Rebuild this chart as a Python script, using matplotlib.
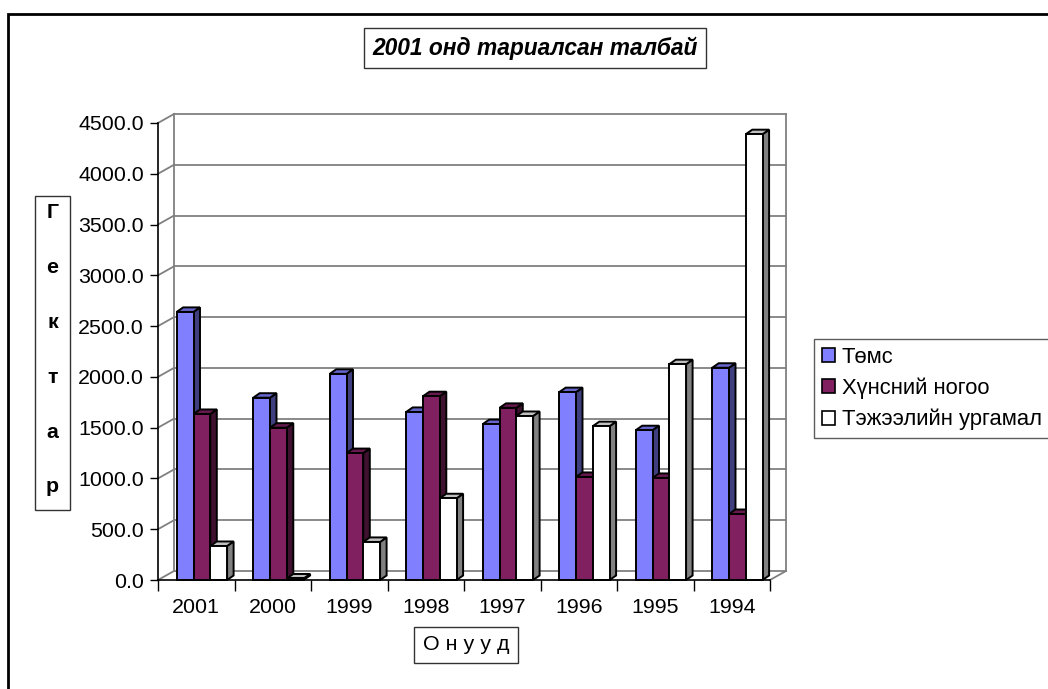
import matplotlib
matplotlib.use("Agg")
import matplotlib.pyplot as plt
from matplotlib.patches import Polygon, Rectangle, Patch

plt.rcParams['font.family'] = ['Liberation Sans', 'DejaVu Sans']

# data
years = ["2001", "2000", "1999", "1998", "1997", "1996", "1995", "1994"]
series_names = ["Төмс", "Хүнсний ногоо", "Тэжээлийн ургамал"]
tomc = [2640, 1795, 2030, 1655, 1535, 1850, 1475, 2090]
nogoo = [1635, 1500, 1250, 1810, 1695, 1015, 1005, 650]
tejeel = [335, 15, 375, 805, 1615, 1515, 2125, 4390]
y_ticks = [0, 500, 1000, 1500, 2000, 2500, 3000, 3500, 4000, 4500]

# colours: front, side, top
colors = [("#8080FF", "#3F3F7F", "#6666CC"),
          ("#802060", "#40102F", "#661A4D"),
          ("#FFFFFF", "#808080", "#C0C0C0")]

W, H = 1048, 689
fs = 15.4
fig = plt.figure(figsize=(W / 100, H / 100), dpi=100)
ax = fig.add_axes([158 / W, 1 - 580 / H, (770 - 158) / W, (580 - 123) / H])
ax.set_xlim(0, len(years))
ax.set_ylim(0, 4500)

# depth offsets (in data units)
px_x = len(years) / (770 - 158)
px_y = 4500 / (580 - 123)
wdx, wdy = 16 * px_x, 9 * px_y       # walls
bdx, bdy = 6.5 * px_x, 4.5 * px_y    # bars
grid_c = "#808080"

# back wall + left wall gridlines
for v in y_ticks:
    ax.plot([wdx, len(years) + wdx], [v + wdy, v + wdy], color=grid_c, lw=1.3, clip_on=False, zorder=1)
    ax.plot([0, wdx], [v, v + wdy], color=grid_c, lw=1.3, clip_on=False, zorder=1)
ax.plot([wdx, wdx], [wdy, 4500 + wdy], color=grid_c, lw=1.3, clip_on=False, zorder=1)
ax.plot([len(years) + wdx] * 2, [wdy, 4500 + wdy], color=grid_c, lw=1.3, clip_on=False, zorder=1)
ax.plot([len(years), len(years) + wdx], [0, wdy], color=grid_c, lw=1.3, clip_on=False, zorder=1)

# bars
bw = 16.8 * px_x
off = 18.7 * px_x
z = 3
for i in range(len(years)):
    for s, vals in enumerate([tomc, nogoo, tejeel]):
        v = vals[i]
        x0 = i + off + s * bw
        x1 = x0 + bw
        front, side, top = colors[s]
        ax.add_patch(Polygon([(x1, 0), (x1 + bdx, bdy), (x1 + bdx, v + bdy), (x1, v)],
                             closed=True, fc=side, ec="black", lw=1.4, zorder=z, clip_on=False))
        ax.add_patch(Polygon([(x0, v), (x0 + bdx, v + bdy), (x1 + bdx, v + bdy), (x1, v)],
                             closed=True, fc=top, ec="black", lw=1.4, zorder=z, clip_on=False))
        ax.add_patch(Rectangle((x0, 0), bw, v, fc=front, ec="black", lw=1.4, zorder=z + 0.5,
                               clip_on=False))
        z += 1

# axes styling
for sp in ["top", "right"]:
    ax.spines[sp].set_visible(False)
ax.spines["left"].set_linewidth(1.2)
ax.spines["bottom"].set_linewidth(1.2)
ax.spines["bottom"].set_zorder(200)
ax.set_yticks(y_ticks)
ax.set_yticklabels([f"{t:.1f}" for t in y_ticks])
ax.tick_params(axis="y", length=6, width=1, pad=4, labelsize=fs)
ax.set_xticks([i + 0.5 for i in range(len(years))])
ax.set_xticklabels(years)
ax.set_xticks(list(range(len(years) + 1)), minor=True)
ax.tick_params(axis="x", which="major", length=0, pad=13, labelsize=fs)
ax.tick_params(axis="x", which="minor", length=8, width=1)
ax.patch.set_visible(False)

# title
fig.text(535 / W, 1 - 48 / H, "2001 онд тариалсан талбай", ha="center", va="center",
         fontsize=16.4, fontweight="bold", fontstyle="italic",
         bbox=dict(boxstyle="square,pad=0.35", fc="white", ec="#333333", lw=1))

# x label
fig.text(466 / W, 1 - 645 / H, "О н у у д", ha="center", va="center", fontsize=fs,
         bbox=dict(boxstyle="square,pad=0.4", fc="white", ec="#333333", lw=1))

# y label, stacked letters in a box
fig.patches.append(Rectangle((35 / W, 1 - 510 / H), 35 / W, 314 / H, transform=fig.transFigure,
                             fill=False, ec="#333333", lw=1))
for k, ch in enumerate("Гектар"):
    fig.text(52.5 / W, 1 - (213 + 54.8 * k) / H, ch, ha="center", va="center",
             fontsize=fs, fontweight="bold")

# legend
handles = [Patch(fc=c[0], ec="black", lw=1.2) for c in colors]
leg = fig.legend(handles, series_names, loc="upper left", bbox_to_anchor=(814 / W, 1 - 339 / H),
                 fontsize=15.8, frameon=True, fancybox=False, borderpad=0.35, labelspacing=0.45,
                 handlelength=0.62, handleheight=0.62, handletextpad=0.3, borderaxespad=0)
leg.get_frame().set_edgecolor("#333333")
leg.get_frame().set_linewidth(1)

# outer chart border
fig.patches.append(Rectangle((8 / W, -0.1), 1.2, 1.1 - 14 / H, transform=fig.transFigure,
                             fill=False, ec="black", lw=2))

fig.savefig("out.png", dpi=100)
